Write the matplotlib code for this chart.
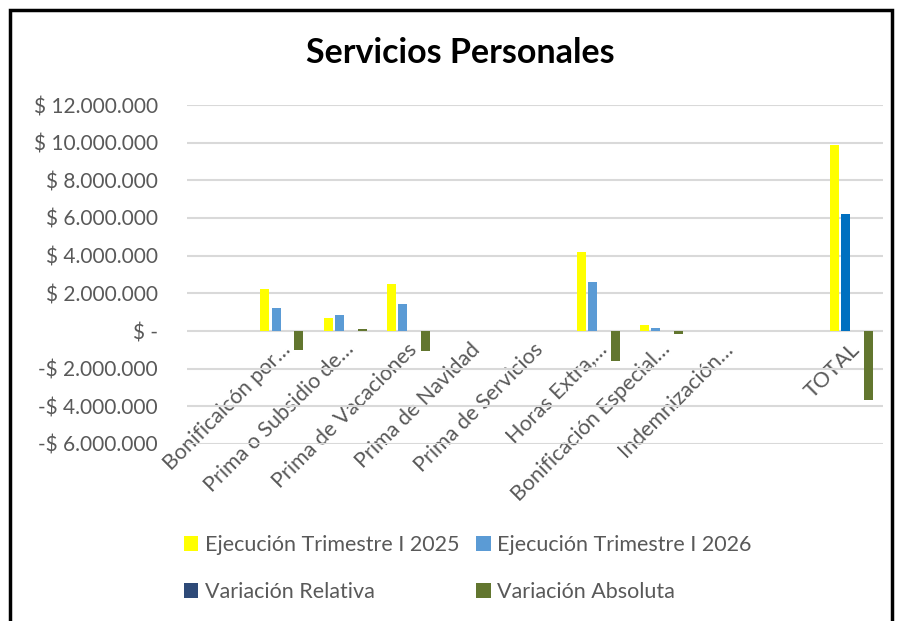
import numpy as np
import matplotlib
matplotlib.use('Agg')
from matplotlib import pyplot as plt
from matplotlib.patches import Patch, Rectangle
from matplotlib.ticker import FuncFormatter

categorias = ['', 'Bonificaicón por…', 'Prima o Subsidio de…', 'Prima de Vacaciones',
              'Prima de Navidad', 'Prima de Servicios', 'Horas Extra,…',
              'Bonificación Especial…', 'Indemnización…', '', 'TOTAL']

ejec_2025 = [0, 2230000, 710000, 2490000, 0, 0, 4170000, 300000, 0, 0, 9880000]
ejec_2026 = [0, 1240000, 830000, 1420000, 0, 0, 2600000, 160000, 0, 0, 6200000]
var_relativa = [0, -0.44, 0.17, -0.43, 0, 0, -0.38, -0.47, 0, 0, -0.37]
var_absoluta = [0, -990000, 120000, -1070000, 0, 0, -1570000, -140000, 0, 0, -3680000]

series_nombres = ['Ejecución Trimestre I 2025', 'Ejecución Trimestre I 2026',
                  'Variación Relativa', 'Variación Absoluta']
colores = ['#FFFF00', '#5B9BD5', '#2E4A78', '#62762F']
color_total_2026 = '#0070C0'

plt.rcParams['font.family'] = ['Lato', 'DejaVu Sans']
gris = '#595959'

fig = plt.figure(figsize=(9.01, 6.21), dpi=100)
ax = fig.add_axes([187 / 901, 1 - 444 / 621, (883 - 187) / 901, (444 - 105) / 621])

x = np.arange(len(categorias))
slot = 11.3 / 63.25
ancho = 9.0 / 63.25
datos = [ejec_2025, ejec_2026, var_relativa, var_absoluta]
for i, (serie, col) in enumerate(zip(datos, colores)):
    cols = [col] * len(serie)
    if i == 1:
        cols[-1] = color_total_2026
    ax.bar(x + (i - 1.5) * slot, serie, width=ancho, color=cols, edgecolor='none', zorder=3)

ax.set_xlim(-0.5, len(categorias) - 0.5)
ax.set_ylim(-6000000, 12000000)
ax.set_yticks(np.arange(-6000000, 12000001, 2000000))

def formato_pesos(v, pos):
    if v == 0:
        return '$ -'
    s = f'{abs(v):,.0f}'.replace(',', '.')
    return f'$ {s}' if v > 0 else f'-$ {s}'

ax.yaxis.set_major_formatter(FuncFormatter(formato_pesos))
ax.grid(axis='y', color='#D9D9D9', linewidth=1.5, zorder=0)
ax.set_axisbelow(True)
# el eje de categorias cruza en cero, las etiquetas van pegadas a esa linea
ax.spines['bottom'].set_position(('data', 0))
for sp in ax.spines.values():
    sp.set_visible(False)

ax.tick_params(axis='y', length=0, pad=21, labelsize=15, labelcolor=gris)
ax.tick_params(axis='x', length=0, pad=14, labelsize=15.5, labelcolor=gris)
ax.set_xticks(x + 0.15)
ax.set_xticklabels(categorias, rotation=45, ha='right', va='baseline', rotation_mode='anchor')

fig.text(460 / 901, 1 - 53 / 621, 'Servicios Personales', ha='center', va='center',
         fontsize=24.5, fontweight='bold', color='black')

# orden por columnas para que la primera fila quede 2025 / 2026
handles = [Patch(facecolor=c, edgecolor='none') for c in colores]
orden = [0, 2, 1, 3]
fig.legend([handles[i] for i in orden], [series_nombres[i] for i in orden],
           ncol=2, loc='upper left', bbox_to_anchor=(184 / 901, 1 - 535 / 621),
           frameon=False, fontsize=15.5, labelcolor=gris, handlelength=0.66, handleheight=0.66,
           handletextpad=0.3, columnspacing=0.8, labelspacing=1.25, borderpad=0,
           borderaxespad=0)

fig.patches.append(Rectangle((9.5 / 901, -0.05), (892 - 9.5) / 901, 1.05 - 9.5 / 621,
                             transform=fig.transFigure, fill=False, edgecolor='black',
                             linewidth=2.5))

plt.savefig('out.png', dpi=100)
